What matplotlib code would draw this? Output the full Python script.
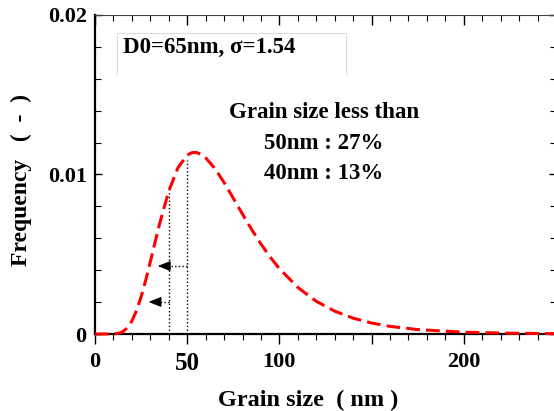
import numpy as np
import matplotlib
matplotlib.use('Agg')
import matplotlib.pyplot as plt
from matplotlib.ticker import MultipleLocator, FixedLocator, FixedFormatter

FONT = 'Liberation Serif'

# grain size (nm) and frequency
grain_size = [0, 5, 10, 12.5, 15, 17.5, 20, 22.5, 25, 27.5, 30, 32.5, 35, 40, 45,
              50, 52.5, 55, 57.5, 60, 65, 70, 75, 80, 85, 90, 95, 100, 110, 120,
              130, 140, 150, 160, 175, 200, 225, 250]
frequency = [0.0, 0.0, 0.000006, 0.000037, 0.000141, 0.000380, 0.000812, 0.001465,
             0.002332, 0.003371, 0.004524, 0.005722, 0.006896, 0.008961, 0.010431,
             0.011216, 0.011368, 0.011380, 0.011267, 0.011050, 0.010377, 0.009495,
             0.008513, 0.007511, 0.006543, 0.005642, 0.004825, 0.004100, 0.002919,
             0.002051, 0.001430, 0.000993, 0.000689, 0.000478, 0.000278, 0.000114,
             0.000048, 0.000021]

# dotted guide lines at 40 and 50 nm
guide_x = [40, 50]
guide_top = [0.0090, 0.0109]

# arrows pointing left from the guides
arrow_y = [0.00426, 0.00201]
arrow_start = [50, 40]
arrow_tip = [34, 29]

xtick_pos = [0, 50, 100, 150, 200, 250]
xtick_labels = ['0', '50', '100', '', '200', '']
ytick_pos = [0, 0.01, 0.02]
ytick_labels = ['0', '0.01', '0.02']

note_lines = ['Grain size less than', '50nm : 27%', '40nm : 13%']
note_y = [0.01386, 0.01197, 0.01009]


def main():
    fig = plt.figure(figsize=(5.54, 4.11), dpi=100)
    ax = fig.add_axes([95 / 554.0, 77 / 411.0, 461 / 554.0, 319 / 411.0])

    ax.plot(grain_size, frequency, color='#ff0000', linewidth=2.2,
            linestyle=(0, (4.5, 2)), clip_on=False, zorder=5)

    for x, top in zip(guide_x, guide_top):
        ax.plot([x, x], [0, top], color='k', linestyle=':', linewidth=1)

    for y, x0, x1 in zip(arrow_y, arrow_start, arrow_tip):
        ax.plot([x0, x1 + 3], [y, y], color='k', linestyle=':', linewidth=1)
        ax.annotate('', xy=(x1, y), xytext=(x1 + 4.5, y),
                    arrowprops=dict(arrowstyle='-|>,head_length=0.75,head_width=0.3',
                                    color='k', linewidth=1, shrinkA=0, shrinkB=0))

    ax.set_xlim(0, 250)
    ax.set_ylim(0, 0.02)

    ax.xaxis.set_major_locator(FixedLocator(xtick_pos))
    ax.xaxis.set_major_formatter(FixedFormatter(xtick_labels))
    ax.xaxis.set_minor_locator(MultipleLocator(10))
    ax.yaxis.set_major_locator(FixedLocator(ytick_pos))
    ax.yaxis.set_major_formatter(FixedFormatter(ytick_labels))
    ax.yaxis.set_minor_locator(MultipleLocator(0.002))

    ax.tick_params(axis='x', which='major', direction='out', length=7, width=1,
                   top=True, pad=6)
    ax.tick_params(axis='x', which='minor', direction='out', length=4, width=0.8,
                   top=True)
    ax.tick_params(axis='y', which='major', direction='in', length=5, width=1,
                   right=True, pad=6)
    ax.tick_params(axis='y', which='minor', direction='in', length=4, width=0.8,
                   right=True)
    # top ticks point inward, bottom ones outward
    for t in ax.xaxis.get_major_ticks() + ax.xaxis.get_minor_ticks():
        t.tick2line.set_marker(3)

    for label in ax.get_xticklabels() + ax.get_yticklabels():
        label.set_family(FONT)
        label.set_weight('bold')
        label.set_size(16)
    ax.get_xticklabels()[1].set_size(18)

    for side in ('left', 'bottom'):
        ax.spines[side].set_linewidth(1.6)
    for side in ('top', 'right'):
        ax.spines[side].set_linewidth(0.8)
        ax.spines[side].set_color('#444444')

    ax.set_xlabel('Grain size  ( nm )', family=FONT, weight='bold', size=17.5, va='top')
    ax.xaxis.set_label_coords(0.462, -0.1755)
    ax.set_ylabel('Frequency   (  -  )', family=FONT, weight='bold', size=17)
    ax.yaxis.set_label_coords(-0.137, 0.483)

    # parameter box, open at the bottom
    ax.plot([0.0477, 0.0477, 0.5445, 0.5445], [0.815, 0.9436, 0.9436, 0.815],
            transform=ax.transAxes, color='#dddddd', linewidth=0.8)
    ax.text(0.0607, 0.8997, 'D0=65nm, σ=1.54', transform=ax.transAxes,
            family=FONT, weight='bold', size=16.5, va='center', ha='left')

    for txt, y in zip(note_lines, note_y):
        ax.text(124, y, txt, family=FONT, weight='bold', size=16.5,
                ha='center', va='center')

    fig.savefig('out.png', dpi=100)


if __name__ == '__main__':
    main()
